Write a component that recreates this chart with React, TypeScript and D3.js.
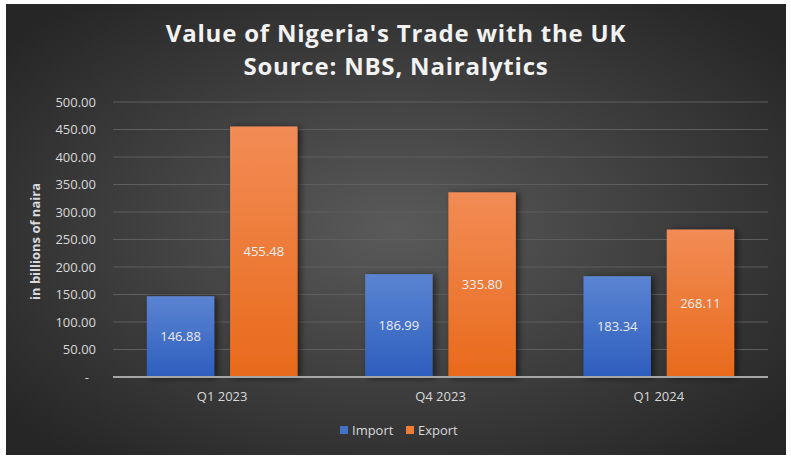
import * as React from 'react';
import * as d3 from 'd3';

const quarters = ['Q1 2023', 'Q4 2023', 'Q1 2024'];
const importValues = [146.88, 186.99, 183.34];
const exportValues = [455.48, 335.8, 268.11];
const yTicks = [0, 50, 100, 150, 200, 250, 300, 350, 400, 450, 500];
const seriesNames = ['Import', 'Export'];

const W = 791;
const H = 462;
const margin = { left: 113, right: 23, top: 102, bottom: 85 };

const font = "'Open Sans', 'Noto Sans', sans-serif";

const App: React.FC = () => {
  const svgRef = React.useRef<SVGSVGElement>(null);

  React.useEffect(() => {
    const svg = d3.select(svgRef.current);
    svg.selectAll('*').remove();

    const defs = svg.append('defs');
    const bg = defs.append('radialGradient')
      .attr('id', 'bg')
      .attr('cx', '50%').attr('cy', '50%').attr('r', '65%');
    bg.append('stop').attr('offset', '0%').attr('stop-color', '#5a5a5a');
    bg.append('stop').attr('offset', '100%').attr('stop-color', '#262626');

    const mkGrad = (id: string, top: string, bottom: string) => {
      const g = defs.append('linearGradient').attr('id', id)
        .attr('x1', 0).attr('y1', 0).attr('x2', 0).attr('y2', 1);
      g.append('stop').attr('offset', '0%').attr('stop-color', top);
      g.append('stop').attr('offset', '100%').attr('stop-color', bottom);
    };
    mkGrad('gImport', '#5b84d2', '#2d5ebe');
    mkGrad('gExport', '#f28c55', '#e86a1b');

    const shadow = defs.append('filter').attr('id', 'shadow')
      .attr('x', '-20%').attr('y', '-20%').attr('width', '150%').attr('height', '140%');
    shadow.append('feDropShadow')
      .attr('dx', 3).attr('dy', 1).attr('stdDeviation', 3)
      .attr('flood-color', '#000').attr('flood-opacity', 0.55);

    // chart area background
    svg.append('rect')
      .attr('x', 6).attr('y', 4).attr('width', 780).attr('height', 451)
      .attr('fill', 'url(#bg)');

    const x0 = d3.scaleBand<string>()
      .domain(quarters)
      .range([margin.left, W - margin.right])
      .paddingInner(0.31)
      .paddingOuter(0.155);

    const x1 = d3.scaleBand<string>()
      .domain(seriesNames)
      .range([0, x0.bandwidth()])
      .paddingInner(0.19);

    const y = d3.scaleLinear()
      .domain([0, 500])
      .range([H - margin.bottom, margin.top]);

    // gridlines
    svg.append('g')
      .selectAll('line')
      .data(yTicks.filter((t) => t > 0))
      .enter().append('line')
      .attr('x1', margin.left).attr('x2', W - margin.right)
      .attr('y1', (d) => y(d)).attr('y2', (d) => y(d))
      .attr('stroke', '#5e5e5e').attr('stroke-width', 1);

    // y tick labels
    svg.append('g')
      .selectAll('text')
      .data(yTicks)
      .enter().append('text')
      .attr('x', (d) => (d === 0 ? 89 : 96))
      .attr('y', (d) => y(d))
      .attr('dy', '0.35em')
      .attr('text-anchor', 'end')
      .attr('font-family', font)
      .attr('font-size', 13)
      .attr('fill', '#d9d9d9')
      .text((d) => (d === 0 ? '-' : d3.format('.2f')(d)));

    // y axis title
    svg.append('text')
      .attr('transform', `translate(40, ${y(250) + 2}) rotate(-90)`)
      .attr('text-anchor', 'middle')
      .attr('font-family', font)
      .attr('font-size', 13)
      .attr('font-weight', 'bold')
      .attr('fill', '#d9d9d9')
      .text('in billions of naira');

    const data = quarters.map((q, i) => ({
      q,
      vals: [
        { name: 'Import', v: importValues[i] },
        { name: 'Export', v: exportValues[i] },
      ],
    }));

    const groups = svg.append('g')
      .selectAll('g')
      .data(data)
      .enter().append('g')
      .attr('transform', (d) => `translate(${x0(d.q)},0)`);

    groups.selectAll('rect')
      .data((d) => d.vals)
      .enter().append('rect')
      .attr('x', (d) => x1(d.name)!)
      .attr('width', x1.bandwidth())
      .attr('y', (d) => y(d.v))
      .attr('height', (d) => y(0) - y(d.v))
      .attr('fill', (d) => (d.name === 'Import' ? 'url(#gImport)' : 'url(#gExport)'))
      .attr('filter', 'url(#shadow)');

    groups.selectAll('text')
      .data((d) => d.vals)
      .enter().append('text')
      .attr('x', (d) => x1(d.name)! + x1.bandwidth() / 2)
      .attr('y', (d) => (y(d.v) + y(0)) / 2)
      .attr('dy', '0.35em')
      .attr('text-anchor', 'middle')
      .attr('font-family', font)
      .attr('font-size', 13)
      .attr('fill', '#ececec')
      .text((d) => d3.format('.2f')(d.v));

    // x axis line
    svg.append('line')
      .attr('x1', margin.left).attr('x2', W - margin.right)
      .attr('y1', y(0)).attr('y2', y(0))
      .attr('stroke', '#a6a6a6').attr('stroke-width', 2);

    // category labels
    svg.append('g')
      .selectAll('text')
      .data(quarters)
      .enter().append('text')
      .attr('x', (d) => x0(d)! + x0.bandwidth() / 2)
      .attr('y', y(0) + 24)
      .attr('text-anchor', 'middle')
      .attr('font-family', font)
      .attr('font-size', 13)
      .attr('fill', '#d9d9d9')
      .text((d) => d);

    // title
    const title = svg.append('text')
      .attr('text-anchor', 'middle')
      .attr('font-family', font)
      .attr('font-size', 24)
      .attr('font-weight', 'bold')
      .attr('letter-spacing', 0.8)
      .attr('fill', '#f2f2f2');
    title.append('tspan').attr('x', 396).attr('y', 42).text("Value of Nigeria's Trade with the UK");
    title.append('tspan').attr('x', 396).attr('y', 75).text('Source: NBS, Nairalytics');

    // legend
    const legendX = [340, 406];
    const legend = svg.append('g')
      .selectAll('g')
      .data(seriesNames)
      .enter().append('g')
      .attr('transform', (_d, i) => `translate(${legendX[i]}, 430)`);
    legend.append('rect')
      .attr('x', 0).attr('y', -4).attr('width', 8).attr('height', 8)
      .attr('fill', (d) => (d === 'Import' ? '#4472c4' : '#ed7d31'));
    legend.append('text')
      .attr('x', 12).attr('y', 0).attr('dy', '0.35em')
      .attr('font-family', font)
      .attr('font-size', 13)
      .attr('fill', '#d9d9d9')
      .text((d) => d);
  }, []);

  return (
    <svg ref={svgRef} width={W} height={H} style={{ position: 'absolute', left: 0, top: 0 }} />
  );
};

export default App;
